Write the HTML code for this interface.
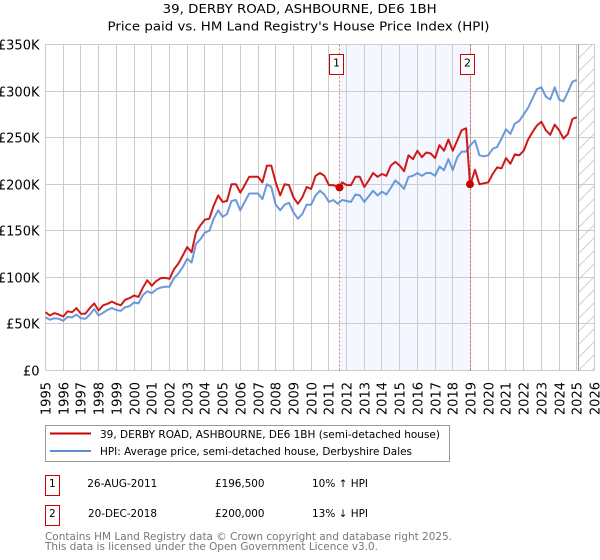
<!DOCTYPE html>
<html lang="en">
<head>
<meta charset="utf-8">
<title>39, DERBY ROAD, ASHBOURNE, DE6 1BH</title>
<style>
html,body{margin:0;padding:0;background:#fff;}
body{width:600px;height:560px;overflow:hidden;position:relative;font-family:"DejaVu Sans","Liberation Sans",sans-serif;}
svg{position:absolute;left:0;top:0;}
text{font-family:"DejaVu Sans","Liberation Sans",sans-serif;fill:#000;}
</style>
</head>
<body>
<svg id="chart" width="600" height="560" viewBox="0 0 600 560" xmlns="http://www.w3.org/2000/svg">
  <defs>
    <pattern id="hatch" width="13" height="13" patternUnits="userSpaceOnUse">
      <path d="M-1 14 L14 -1" stroke="#cfcfcf" stroke-width="1" fill="none"/>
    </pattern>
  </defs>
  <text x="162.7" y="13" font-size="12.5" textLength="274" lengthAdjust="spacingAndGlyphs">39, DERBY ROAD, ASHBOURNE, DE6 1BH</text>
  <text x="107.5" y="30.5" font-size="12.5" textLength="382" lengthAdjust="spacingAndGlyphs">Price paid vs. HM Land Registry's House Price Index (HPI)</text>
  <g id="plot"></g>

  <g>
    <rect x="45.5" y="425.5" width="404" height="36" fill="#fff" stroke="#999"/>
    <line x1="50" x2="91" y1="433.5" y2="433.5" stroke="#cc0000" stroke-width="2"/>
    <text x="100" y="438" font-size="10.5" textLength="340" lengthAdjust="spacingAndGlyphs">39, DERBY ROAD, ASHBOURNE, DE6 1BH (semi-detached house)</text>
    <line x1="50" x2="91" y1="451" y2="451" stroke="#5b8ed6" stroke-width="2"/>
    <text x="100" y="455" font-size="10.5" textLength="312" lengthAdjust="spacingAndGlyphs">HPI: Average price, semi-detached house, Derbyshire Dales</text>
  </g>

  <g>
    <rect x="45.5" y="475.5" width="14" height="20" fill="#fff" stroke="#cc0000"/>
    <text x="52.3" y="487" text-anchor="middle" font-size="10.5">1</text>
    <text x="87.3" y="487" font-size="10.5" textLength="70" lengthAdjust="spacingAndGlyphs">26-AUG-2011</text>
    <text x="215" y="487" font-size="10.5" textLength="49.5" lengthAdjust="spacingAndGlyphs">£196,500</text>
    <text x="312" y="487" font-size="10.5" textLength="56" lengthAdjust="spacingAndGlyphs">10% ↑ HPI</text>
    <rect x="45.5" y="505.5" width="14" height="20" fill="#fff" stroke="#cc0000"/>
    <text x="52.3" y="517" text-anchor="middle" font-size="10.5">2</text>
    <text x="88" y="517" font-size="10.5" textLength="69" lengthAdjust="spacingAndGlyphs">20-DEC-2018</text>
    <text x="215" y="517" font-size="10.5" textLength="49.5" lengthAdjust="spacingAndGlyphs">£200,000</text>
    <text x="312" y="517" font-size="10.5" textLength="56" lengthAdjust="spacingAndGlyphs">13% ↓ HPI</text>
  </g>

  <text x="45" y="540" font-size="10.5" textLength="407" lengthAdjust="spacingAndGlyphs" style="fill:#777">Contains HM Land Registry data © Crown copyright and database right 2025.</text>
  <text x="45" y="550" font-size="10.5" textLength="333" lengthAdjust="spacingAndGlyphs" style="fill:#777">This data is licensed under the Open Government Licence v3.0.</text>
</svg>

<script>
// Chart data (£ thousands, one value per quarter from 1995.0)
const startYear = 1995;
const stepYears = 0.25;
const hpiValues = [
  57,54.5,56,55.5, 53.5,57.5,57,60, 56,55.5,60,66, 59,62,65,67, 65,64,68,69,
  73,72,81,85, 83,87,89,90, 90,99,104,111, 120,116,136,141,
  148,150,163,172, 165,168,182,183, 172,181,190,190,
  190,184,200,197, 178,172,178,180, 170,163,168,178, 178,188,193,189,
  181,183,179,183, 182,181,189,188, 181,187,193,188, 192,189,196,204,
  200,195,208,209, 212,209,212,212, 209,219,215,227, 215,229,235,235,
  242,247,231,230, 231,238,240,249, 259,254,265,268, 275,282,292,302,
  304,294,291,304, 291,289,299,310, 312
];
const priceValues = [
  62.6,59,61.6,60, 58,63.4,62.6,67, 61,61,67,72, 64.4,70,71.6,74, 71.6,70,76,77.7,
  80.5,79,89,97, 91,96,99,99.5, 98.5,108.5,114.6,123.5, 132.5,127,148.5,156,
  162,163,177,188, 181,182,200,200, 191,199,208,208,
  208,202,220,220, 202,188,200,199, 186,179,186,197, 195,209,212,209,
  199,199,197,202, 199,199,208,208, 197,204,212,208, 211,209,220,224,
  220,214,231,227, 236,229,234,233, 228,242,236,248, 236,247,258,260,
  200,215.5,200,201, 202,211,218,217, 228,222,232,231, 236,248,256,263,
  267,258,253,264, 258,249,254,270, 272
];
const saleDates = [2011.6, 2018.97];
const salePrices = [196.5, 200];
const saleLabels = ['1', '2'];
const yTickValues = [0, 50, 100, 150, 200, 250, 300, 350];
const yTickLabels = ['£0', '£50K', '£100K', '£150K', '£200K', '£250K', '£300K', '£350K'];
const xTickYears = [1995,1996,1997,1998,1999,2000,2001,2002,2003,2004,2005,2006,2007,2008,2009,2010,2011,2012,2013,2014,2015,2016,2017,2018,2019,2020,2021,2022,2023,2024,2025,2026];

const plotLeft = 45.5, plotRight = 594.5, plotTop = 44.5, plotBottom = 370.5;
const xScale = function (year) { return plotLeft + (year - 1995) * (plotRight - plotLeft) / 31; };
const yScale = function (value) { return plotBottom - value * (plotBottom - plotTop) / 350; };
const NS = 'http://www.w3.org/2000/svg';
const plot = document.getElementById('plot');

function make(tag, attrs, parent) {
  const el = document.createElementNS(NS, tag);
  Object.keys(attrs).forEach(function (k) { el.setAttribute(k, attrs[k]); });
  (parent || plot).appendChild(el);
  return el;
}
function snap(v) { return Math.round(v - 0.5) + 0.5; }

// Shaded span between the two sales
const shade = make('rect', { x: xScale(saleDates[0]), y: plotTop, width: xScale(saleDates[1]) - xScale(saleDates[0]), height: plotBottom - plotTop, fill: '#f4f7ff' });



// Forecast hatch area
const hatchArea = make('rect', { x: 578.5, y: plotTop, width: plotRight - 578.5, height: plotBottom - plotTop, fill: 'url(#hatch)' });



// Grid and axes
xTickYears.forEach(function (year) {
  const x = snap(xScale(year));
  const line = make('line', { x1: x, x2: x, y1: plotTop, y2: plotBottom, stroke: '#cccccc', 'stroke-width': 1 });
  
  
  const label = make('text', { 'font-size': 13, 'text-anchor': 'end', transform: 'translate(' + (x + 5) + ',382) rotate(-90)' });
  label.textContent = String(year);
  
  
});
yTickValues.forEach(function (value, i) {
  const y = snap(yScale(value));
  const line = make('line', { x1: plotLeft, x2: plotRight, y1: y, y2: y, stroke: '#cccccc', 'stroke-width': 1 });
  
  
  const label = make('text', { x: 39.5, y: y + 5, 'font-size': 13, 'text-anchor': 'end' });
  label.textContent = yTickLabels[i];
  
  
});

// Latest-data marker
const dataEnd = make('line', { x1: 578.5, x2: 578.5, y1: plotTop, y2: plotBottom, stroke: '#999999', 'stroke-width': 1 });



// Sale guide lines
saleDates.forEach(function (date) {
  const x = snap(xScale(date));
  const guide = make('line', { x1: x, x2: x, y1: plotTop, y2: plotBottom, stroke: '#cc0000', 'stroke-opacity': 0.55, 'stroke-width': 1, 'stroke-dasharray': '2 2' });
  
  
});

// Series
function seriesPoints(values, extraDates, extraValues) {
  const pts = values.map(function (v, i) { return [startYear + i * stepYears, v]; });
  extraDates.forEach(function (d, i) { pts.push([d, extraValues[i]]); });
  pts.sort(function (a, b) { return a[0] - b[0]; });
  return pts.map(function (p) { return xScale(p[0]).toFixed(1) + ',' + yScale(p[1]).toFixed(1); }).join(' ');
}
const hpiLine = make('polyline', { points: seriesPoints(hpiValues, [], []), fill: 'none', stroke: '#5b8ed6', 'stroke-width': 2, 'stroke-opacity': 0.9, 'stroke-linejoin': 'round' });


const priceLine = make('polyline', { points: seriesPoints(priceValues, saleDates, salePrices), fill: 'none', stroke: '#cc0000', 'stroke-width': 2, 'stroke-opacity': 0.9, 'stroke-linejoin': 'round' });



// Sale markers and numbered badges
saleDates.forEach(function (date, i) {
  const x = xScale(date);
  const dot = make('circle', { cx: x, cy: yScale(salePrices[i]), r: 4, fill: '#cc0000' });
  
  
  const bx = snap(x) - 10;
  const badge = make('rect', { x: bx, y: 54.5, width: 14, height: 20, fill: '#fff', stroke: '#cc0000', 'stroke-width': 1 });
  
  
  const num = make('text', { x: bx + 7, y: 66.5, 'font-size': 11, 'text-anchor': 'middle' });
  num.textContent = saleLabels[i];
  
  
});
</script>
</body>
</html>
